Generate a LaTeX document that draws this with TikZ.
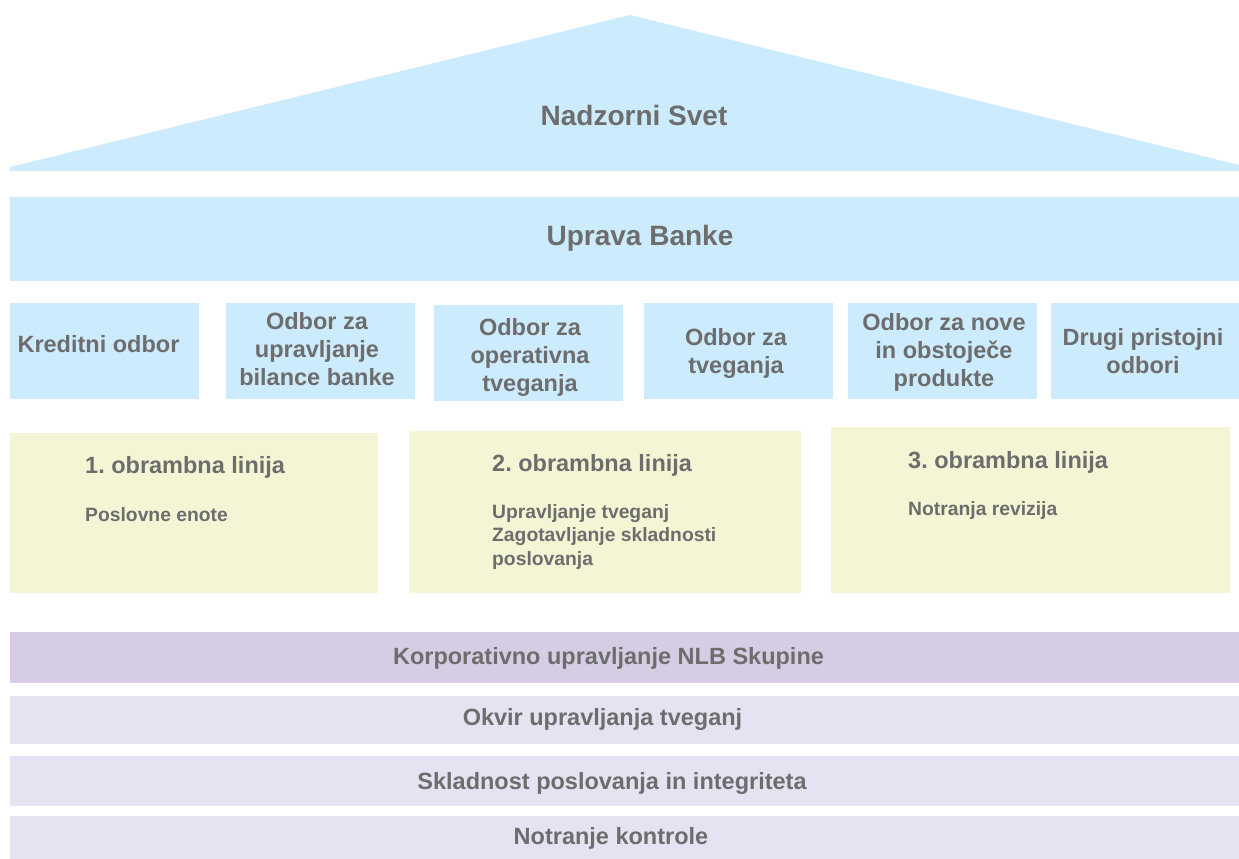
\documentclass[tikz,border=0pt]{standalone}
\usepackage{fontspec}
\setmainfont{Liberation Sans}
\frenchspacing
\definecolor{skyfill}{HTML}{CCEBFD}
\definecolor{lemon}{HTML}{F4F5D4}
\definecolor{lavdark}{HTML}{D6CDE5}
\definecolor{lavlight}{HTML}{E7E2F2}
\definecolor{txtgray}{HTML}{6D6D6D}
\tikzset{
  panel/.style={inner sep=0pt, draw=none},
  bigtxt/.style={font=\fontsize{28}{32}\selectfont\bfseries, text=txtgray, inner sep=0pt},
  midtxt/.style={font=\fontsize{23.5}{28}\selectfont\bfseries, text=txtgray, inner sep=0pt, align=center},
  bodytxt/.style={font=\fontsize{19.3}{23.5}\selectfont\bfseries, text=txtgray, inner sep=0pt, align=left}
}
\begin{document}
\begin{tikzpicture}[x=1pt, y=-1pt]
\useasboundingbox (0,0) rectangle (1239,859);
% streha
\fill[skyfill] (10,171)--(10,167)--(630,15)--(1239,165)--(1239,171)--cycle;
\node[bigtxt] (nadzor) at (634,115) {Nadzorni Svet};
% uprava
\node[panel, fill=skyfill, minimum width=1229pt, minimum height=84pt] (uprava) at (624.5,239) {};
\node[bigtxt] (upravatxt) at (640,238.5) {Uprava Banke};
% odbori
\foreach \bx/\by/\tx/\ty/\nm/\txt in {
    104/351/98.5/344/kred/{Kreditni odbor},
    320.5/351/317/349.5/bil/{Odbor za\\upravljanje\\bilance banke},
    528/353/530/357.5/oper/{Odbor za\\operativna\\tveganja},
    738.5/351/736/353.5/tveg/{Odbor za\\tveganja},
    942/351/944/352/prod/{Odbor za nove\\in obstoječe\\produkte},
    1145.5/351/1143/351.5/drugi/{Drugi pristojni\\odbori}}
{
    \node[panel, fill=skyfill, minimum width=189pt, minimum height=96pt] (\nm) at (\bx,\by) {};
    \node[midtxt] (\nm txt) at (\tx,\ty) {\txt};
}
% obrambne linije
\node[panel, fill=lemon, minimum width=368pt, minimum height=160pt] (lin1) at (194,513) {};
\node[panel, fill=lemon, minimum width=392pt, minimum height=162pt] (lin2) at (605,512) {};
\node[panel, fill=lemon, minimum width=399pt, minimum height=166pt] (lin3) at (1030.5,510) {};
\node[midtxt, anchor=base west] (lin1tit) at (85,473.5) {1. obrambna linija};
\node[bodytxt, anchor=base west] (lin1txt) at (85,521) {Poslovne enote};
\node[midtxt, anchor=base west] (lin2tit) at (492,471.5) {2. obrambna linija};
\node[bodytxt, anchor=north west] (lin2txt) at (492,504) {Upravljanje tveganj\\Zagotavljanje skladnosti\\poslovanja};
\node[midtxt, anchor=base west] (lin3tit) at (908,468.5) {3. obrambna linija};
\node[bodytxt, anchor=base west] (lin3txt) at (908,515) {Notranja revizija};
% temelji
\foreach \bc/\by/\bh/\tx/\ty/\nm/\txt in {
    lavdark/657.5/51/608.5/658.5/korp/{Korporativno upravljanje NLB Skupine},
    lavlight/720/48/602.5/719.5/okvir/{Okvir upravljanja tveganj},
    lavlight/781/50/612/783.5/sklad/{Skladnost poslovanja in integriteta},
    lavlight/837.5/43/611/838.5/kontr/{Notranje kontrole}}
{
    \node[panel, fill=\bc, minimum width=1229pt, minimum height=\bh pt] (\nm) at (624.5,\by) {};
    \node[midtxt] (\nm txt) at (\tx,\ty) {\txt};
}
\end{tikzpicture}
\end{document}
